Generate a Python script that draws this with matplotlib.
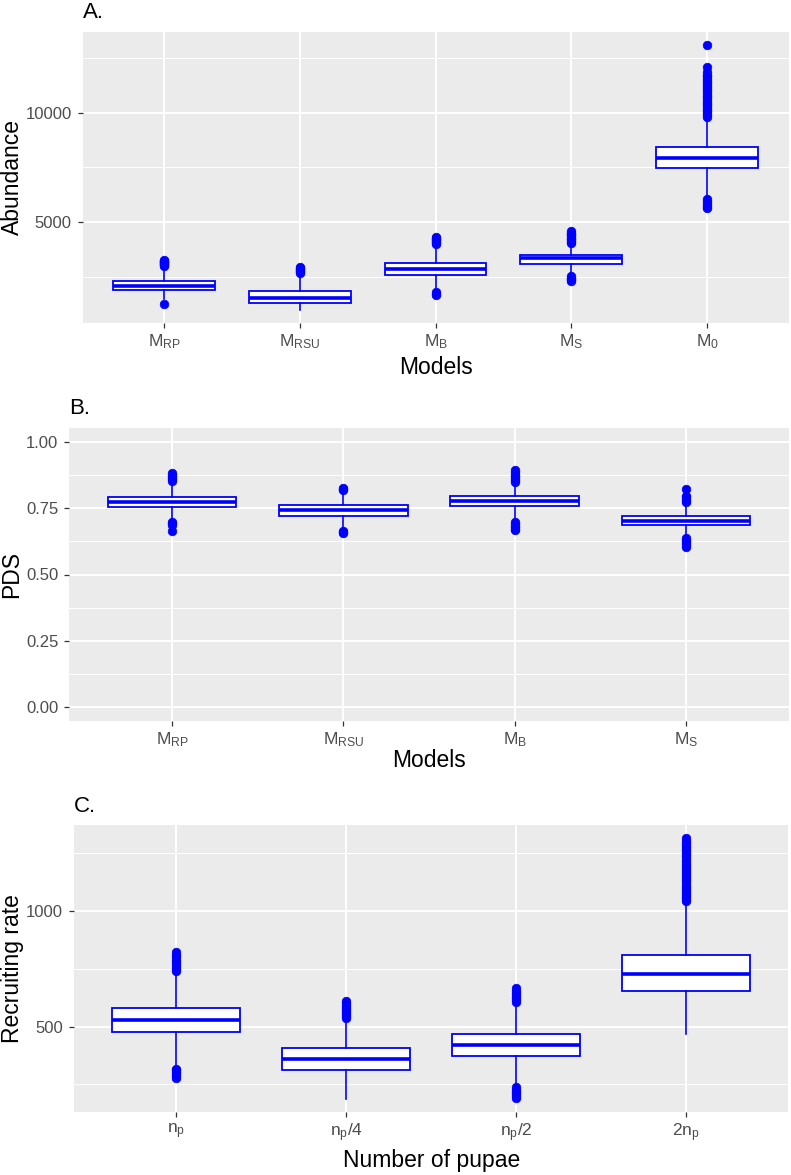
import matplotlib
matplotlib.use("Agg")
import matplotlib.pyplot as plt

plt.rcParams['font.family'] = ['Liberation Sans', 'DejaVu Sans']
plt.rcParams['mathtext.fontset'] = 'custom'
plt.rcParams['mathtext.rm'] = 'Liberation Sans'
plt.rcParams['mathtext.it'] = 'Liberation Sans'
plt.rcParams['mathtext.default'] = 'regular'

# ---------------- Panel A: Abundance ----------------
models_a = [r'$\mathregular{M_{RP}}$', r'$\mathregular{M_{RSU}}$', r'$\mathregular{M_{B}}$',
            r'$\mathregular{M_{S}}$', r'$\mathregular{M_{0}}$']
abund_q1 = [1888, 1309, 2558, 3087, 7451]
abund_med = [2084, 1537, 2845, 3333, 7921]
abund_q3 = [2311, 1856, 3133, 3497, 8408]
abund_lo = [1500, 976, 1850, 2600, 6100]
abund_hi = [2950, 2650, 3900, 3990, 9750]
abund_out = [
    [1236, 3000, 3030, 3060, 3090, 3120, 3150, 3180, 3210, 3240, 3260],
    [2680, 2720, 2760, 2800, 2840, 2880, 2923],
    [1660, 1720, 1783, 3972, 4020, 4070, 4120, 4170, 4220, 4270, 4336],
    [2298, 2350, 2400, 2450, 2513, 4045, 4100, 4160, 4220, 4280, 4340, 4400, 4460, 4520, 4592],
    [5641, 5700, 5780, 5860, 5940, 6037, 9822, 9900, 9980, 10060, 10140, 10220, 10300,
     10380, 10460, 10540, 10620, 10700, 10780, 10860, 10940, 11020, 11100, 11180, 11260,
     11340, 11420, 11500, 11580, 11660, 11740, 11842, 12070, 13092],
]
abund_major = [5000, 10000]
abund_minor = [2500, 7500, 12500]

# ---------------- Panel B: PDS ----------------
models_b = [r'$\mathregular{M_{RP}}$', r'$\mathregular{M_{RSU}}$', r'$\mathregular{M_{B}}$',
            r'$\mathregular{M_{S}}$']
pds_q1 = [0.754, 0.720, 0.7565, 0.685]
pds_med = [0.772, 0.741, 0.775, 0.702]
pds_q3 = [0.793, 0.763, 0.795, 0.720]
pds_lo = [0.700, 0.670, 0.700, 0.642]
pds_hi = [0.845, 0.808, 0.840, 0.765]
pds_out = [
    [0.662, 0.686, 0.692, 0.698, 0.852, 0.858, 0.864, 0.870, 0.876, 0.881],
    [0.655, 0.659, 0.663, 0.818, 0.822, 0.826],
    [0.666, 0.672, 0.678, 0.684, 0.690, 0.697, 0.848, 0.855, 0.862, 0.869, 0.876, 0.884, 0.893],
    [0.604, 0.611, 0.618, 0.625, 0.631, 0.637, 0.772, 0.778, 0.784, 0.790, 0.797, 0.822],
]
pds_major = [0.0, 0.25, 0.5, 0.75, 1.0]
pds_minor = [0.125, 0.375, 0.625, 0.875]
pds_major_labels = ['0.00', '0.25', '0.50', '0.75', '1.00']

# ---------------- Panel C: Recruiting rate ----------------
pupae = [r'$\mathregular{n_p}$', r'$\mathregular{n_p/4}$', r'$\mathregular{n_p/2}$', r'$\mathregular{2n_p}$']
rec_q1 = [476, 314, 375, 654]
rec_med = [529, 360, 420, 728]
rec_q3 = [582, 407, 468, 810]
rec_lo = [327, 186, 248, 468]
rec_hi = [725, 525, 594, 1030]
rec_out = [
    [280, 288, 296, 304, 311, 317, 741, 750, 760, 770, 780, 790, 800, 810, 822],
    [539, 546, 554, 562, 570, 578, 586, 594, 602, 610],
    [193, 200, 207, 214, 221, 228, 238, 607, 614, 622, 630, 638, 646, 654, 666],
    [1043, 1052, 1061, 1070, 1079, 1088, 1097, 1106, 1115, 1124, 1133, 1142, 1151, 1160,
     1169, 1178, 1187, 1196, 1205, 1214, 1223, 1232, 1241, 1250, 1259, 1268, 1277, 1286,
     1295, 1305, 1316],
]
rec_major = [500, 1000]
rec_minor = [250, 750, 1250]

W, H = 791, 1175
fig = plt.figure(figsize=(W / 100, H / 100), dpi=100)

BLUE = '#0000FF'
TICK_COL = '#333333'
LAB_COL = '#4D4D4D'


def add_ax(l, t, r, b):
    return fig.add_axes([l / W, 1 - b / H, (r - l) / W, (b - t) / H])


def draw_panel(ax, labels, q1, med, q3, lo, hi, out, ylim, major, minor, major_labels=None):
    stats = []
    for i in range(len(labels)):
        stats.append(dict(q1=q1[i], med=med[i], q3=q3[i], whislo=lo[i], whishi=hi[i],
                          fliers=out[i]))
    pos = list(range(len(labels)))
    ax.set_facecolor('#EBEBEB')
    for s in ax.spines.values():
        s.set_visible(False)
    ax.bxp(stats, positions=pos, widths=0.75, patch_artist=True, showcaps=False,
           boxprops=dict(facecolor='white', edgecolor=BLUE, linewidth=1.3),
           medianprops=dict(color=BLUE, linewidth=2.6, solid_capstyle='butt'),
           whiskerprops=dict(color=BLUE, linewidth=1.2),
           flierprops=dict(marker='o', markerfacecolor=BLUE, markeredgecolor=BLUE,
                           markersize=6.2, markeredgewidth=0.5),
           zorder=3)
    ax.set_xlim(-0.6, len(labels) - 0.4)
    ax.set_ylim(*ylim)
    ax.set_xticks(pos)
    ax.set_xticklabels(labels)
    ax.set_yticks(major)
    if major_labels is not None:
        ax.set_yticklabels(major_labels)
    ax.set_yticks(minor, minor=True)
    ax.set_axisbelow(True)
    ax.grid(which='major', color='white', linewidth=1.4)
    ax.grid(which='minor', axis='y', color='white', linewidth=0.7)
    ax.tick_params(which='major', length=3.8, width=0.9, color=TICK_COL, labelcolor=LAB_COL)
    ax.tick_params(which='minor', length=0)
    ax.tick_params(axis='y', labelsize=12, pad=4)
    ax.tick_params(axis='x', labelsize=12.5, pad=3)


def expand(lo, hi):
    r = hi - lo
    return (lo - 0.05 * r, hi + 0.05 * r)


# Panel A
axA = add_ax(82.7, 31.7, 788.5, 323.3)
a_min = min(min(abund_lo), min(min(o) for o in abund_out))
a_max = max(max(abund_hi), max(max(o) for o in abund_out))
draw_panel(axA, models_a, abund_q1, abund_med, abund_q3, abund_lo, abund_hi, abund_out,
           expand(a_min, a_max), abund_major, abund_minor)
axA.set_yticklabels([str(v) for v in abund_major])

# Panel B
axB = add_ax(69.3, 428.3, 788.8, 720.7)
draw_panel(axB, models_b, pds_q1, pds_med, pds_q3, pds_lo, pds_hi, pds_out,
           expand(0.0, 1.0), pds_major, pds_minor, pds_major_labels)

# Panel C
axC = add_ax(74, 825, 788.3, 1112.3)
c_min = min(min(rec_lo), min(min(o) for o in rec_out))
c_max = max(max(rec_hi), max(max(o) for o in rec_out))
draw_panel(axC, pupae, rec_q1, rec_med, rec_q3, rec_lo, rec_hi, rec_out,
           expand(c_min, c_max), rec_major, rec_minor)
axC.set_yticklabels([str(v) for v in rec_major])


def ftext(x, y, s, **kw):
    fig.text(x / W, 1 - y / H, s, **kw)


# Titles
ftext(82.7, 12, 'A.', fontsize=16, ha='left', va='center')
ftext(69.3, 409, 'B.', fontsize=16, ha='left', va='center')
ftext(74, 806.5, 'C.', fontsize=16, ha='left', va='center')

# Axis titles
ftext((82.7 + 788.5) / 2, 367, 'Models', fontsize=16.5, ha='center', va='center')
ftext((69.3 + 788.8) / 2, 760.5, 'Models', fontsize=16.5, ha='center', va='center')
ftext((74 + 788.3) / 2, 1161, 'Number of pupae', fontsize=16.5, ha='center', va='center')

ftext(12, (31.7 + 323.3) / 2, 'Abundance', fontsize=16.5, rotation=90, ha='center', va='center')
ftext(12, (428.3 + 720.7) / 2, 'PDS', fontsize=16.5, rotation=90, ha='center', va='center')
ftext(13, (825 + 1112.3) / 2, 'Recruiting rate', fontsize=16.5, rotation=90, ha='center', va='center')

fig.savefig('out.png', dpi=100)
